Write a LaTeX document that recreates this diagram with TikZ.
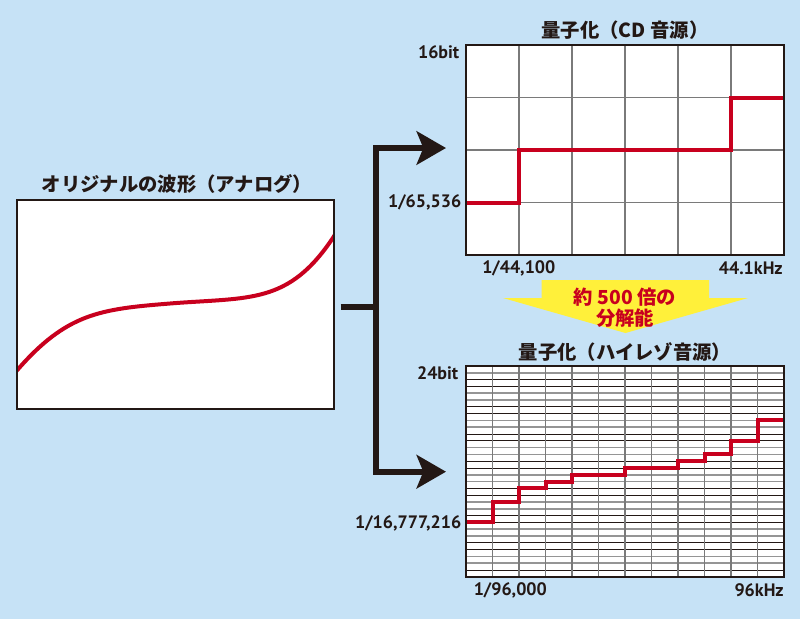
\documentclass[tikz,border=0pt]{standalone}
\usepackage{fontspec}
\setmainfont{PT Sans}
\newfontfamily\jp{Noto Sans CJK JP}
\usetikzlibrary{arrows.meta}
\definecolor{bg}{HTML}{C6E2F6}
\definecolor{ink}{HTML}{231815}
\definecolor{wave}{HTML}{C8001E}
\definecolor{gridgrey}{HTML}{7A7A7A}
\definecolor{yel}{HTML}{FFF03A}
\tikzset{
  chartbox/.style={fill=white, draw=none, inner sep=0pt, outer sep=0pt},
  frame/.style={draw=ink, line width=1.6pt},
  gridline/.style={draw=gridgrey, line width=1pt},
  finegrey/.style={draw=gridgrey!80, line width=1.3pt},
  fineblack/.style={draw=ink, line width=0.7pt},
  redline/.style={draw=wave, line width=3pt},
  conn/.style={draw=ink, line width=4.5pt},
  connarrow/.style={conn, -{Stealth[length=22pt, width=25pt, inset=5pt]}},
  title/.style={font=\jp\bfseries\fontsize{14.5}{16}\selectfont, text=ink, inner sep=0pt},
  axislabel/.style={font=\bfseries\fontsize{13.5}{15}\selectfont, text=ink, inner sep=0pt},
  redtext/.style={font=\jp\bfseries\fontsize{14.5}{18}\selectfont, text=wave, align=center, inner sep=0pt},
}
\begin{document}
\begin{tikzpicture}[x=0.75pt, y=-0.75pt]
\useasboundingbox (0,0) rectangle (800,619);
\fill[bg] (0,0) rectangle (800,619);

% ---------- left analog chart ----------
\node[chartbox, minimum width=238.2pt, minimum height=156.75pt] (analog) at (175.5,304.5) {};
\node[title] (analogtitle) at (177,184) {オリジナルの波形（アナログ）};
\begin{scope}
\clip (analog.north west) rectangle (analog.south east);
\draw[redline, line cap=butt] (13.7,374.2) -- (16.7,370.7)
  .. controls (66.7,313.2) and (100,309.1) .. (170,303.5)
  .. controls (250,297.1) and (288.3,304.8) .. (333.3,237.3) -- (336,233);
\end{scope}
\draw[frame] (analog.north west) rectangle (analog.south east);

% ---------- top chart (CD) ----------
\node[chartbox, minimum width=238.5pt, minimum height=157.5pt] (cd) at (625,150) {};
\foreach \x in {519,572,625,678,731} \draw[gridline] (\x,45) -- (\x,255);
\foreach \y in {97.5,150,202.5} \draw[gridline] (466,\y) -- (784,\y);
\draw[redline] (466,202.5) -| (519,150) -| (731,97.5) -- (784,97.5);
\draw[frame] (cd.north west) rectangle (cd.south east);
\node[title] (cdtitle) at (625,30) {量子化（CD 音源）};
\node[axislabel, anchor=east] (cdtop) at (459.5,52) {16bit};
\node[axislabel, anchor=east] (cdbot) at (461.5,202.5) {1/65,536};
\node[axislabel, anchor=west] (cdleft) at (482,268.5) {1/44,100};
\node[axislabel, anchor=east] (cdright) at (783,268.5) {44.1kHz};

% ---------- bottom chart (Hi-Res) ----------
\node[chartbox, minimum width=238.5pt, minimum height=158.1pt] (hr) at (625,471.4) {};
\foreach \k in {1,...,30} {
  \pgfmathtruncatemacro{\m}{mod(\k,4)}
  \pgfmathsetmacro{\yy}{366+6.8*\k}
  \ifnum\m<2
    \draw[finegrey] (466,\yy) -- (784,\yy);
  \else
    \draw[fineblack] (466,\yy) -- (784,\yy);
  \fi
}
\foreach \i in {1,...,11} {
  \pgfmathsetmacro{\xx}{466+26.5*\i}
  \draw[gridline, line width=1.2pt] (\xx,366) -- (\xx,576.8);
}
\draw[redline] (466,522.4) -| (492.5,502) -| (519,488.4) -| (545.5,481.6) -| (572,474.8)
  -| (625,468) -| (678,461.2) -| (704.5,454.4) -| (731,440.8) -| (757.5,420.4) -- (784,420.4);
\draw[frame] (hr.north west) rectangle (hr.south east);
\node[title] (hrtitle) at (625,352) {量子化（ハイレゾ音源）};
\node[axislabel, anchor=east] (hrtop) at (458.5,373.5) {24bit};
\node[axislabel, anchor=east] (hrbot) at (461.5,523) {1/16,777,216};
\node[axislabel, anchor=west] (hrleft) at (473.5,590) {1/96,000};
\node[axislabel, anchor=east] (hrright) at (784,590) {96kHz};

% ---------- yellow arrow ----------
\fill[yel] (541.7,280) -- (709,280) -- (709,298) -- (748,298) -- (625.5,333)
  -- (503,298) -- (541.7,298) -- cycle;
\node[redtext] (ratio) at (625,307.5) {約 500 倍の\\[-2pt]分解能};

% ---------- connectors ----------
\coordinate (j) at (375.7,306.7);
\coordinate (jt) at (375.7,148);
\coordinate (jb) at (375.7,471.7);
\coordinate (tipt) at (446,148);
\coordinate (tipb) at (446,471.7);
\draw[conn] (340.7,306.7) -- (j);
\draw[conn, line cap=rect] (jt) -- (jb);
\draw[connarrow] (jt) -- (tipt);
\draw[connarrow] (jb) -- (tipb);
\end{tikzpicture}
\end{document}
